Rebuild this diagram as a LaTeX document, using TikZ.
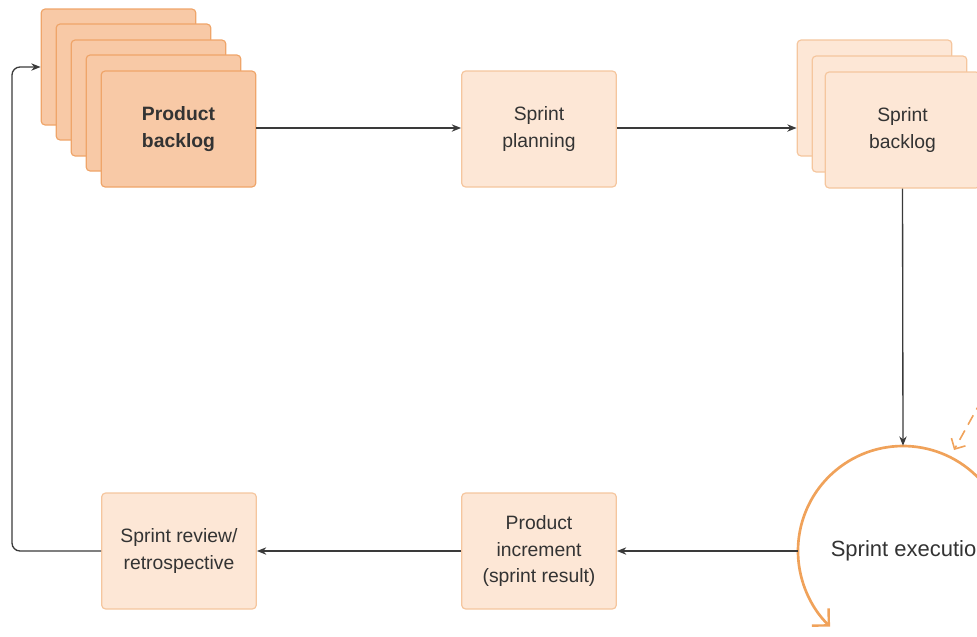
\documentclass[tikz,border=0pt]{standalone}
\usepackage{fontspec}
\setmainfont{Liberation Sans}
\usetikzlibrary{arrows.meta,positioning}
\definecolor{darkfill}{HTML}{F8C9A6}
\definecolor{darkline}{HTML}{EFA56A}
\definecolor{lightfill}{HTML}{FDE7D6}
\definecolor{lightline}{HTML}{F5C69E}
\definecolor{txt}{HTML}{333333}
\definecolor{arr}{HTML}{3A3A3A}
\definecolor{circ}{HTML}{F0A25A}
\begin{document}
\begin{tikzpicture}[x=0.75pt,y=-0.75pt,
  box/.style={rectangle,rounded corners=3pt,minimum width=116pt,minimum height=87pt,
    inner sep=0pt,align=center,text=txt,font=\fontsize{14.5}{20}\selectfont,line width=0.9pt},
  darkbox/.style={box,fill=darkfill,draw=darkline},
  lightbox/.style={box,fill=lightfill,draw=lightline},
  conn/.style={draw=arr,line width=1pt,-{Stealth[length=7pt,width=5.5pt]}}]
\useasboundingbox (0,0) rectangle (977,636);
\clip (0,0) rectangle (977,636);
% Product backlog stack
\node[darkbox] (pb1) at (118.5,67) {};
\node[darkbox] (pb2) at (133.5,82) {};
\node[darkbox] (pb3) at (148.5,98) {};
\node[darkbox] (pb4) at (163.5,113) {};
\node[darkbox,font=\fontsize{14.5}{20}\selectfont\bfseries] (pb) at (178.5,129) {Product\\backlog};
% Sprint planning
\node[lightbox] (sp) at (539,129) {Sprint\\planning};
% Sprint backlog stack
\node[lightbox] (sb1) at (874.5,98) {};
\node[lightbox] (sb2) at (889.5,114) {};
\node[lightbox] (sb) at (902.5,130) {Sprint\\backlog};
% Sprint execution
\node[circle,minimum size=157.5pt,inner sep=0pt,text=txt,font=\fontsize{16.5}{20}\selectfont] (ex) at (903,551) {\hspace*{10pt}Sprint execution};
\draw[circ,line width=2pt,-{Straight Barb[length=9pt,width=18pt,line width=1.8pt]}]
  ([shift={(-40:105)}]ex.center) arc[start angle=-40,end angle=-226,radius=105];
\coordinate (dstart) at (990,385);
\coordinate (dend) at (954,450);
\draw[circ,line width=1.2pt,dashed,dash pattern=on 8pt off 5pt,-{Straight Barb[length=6pt,width=12pt]}] (dstart) -- (dend);
% Bottom boxes
\node[lightbox] (pi) at (539,551) {Product\\increment\\(sprint result)};
\node[lightbox] (sr) at (179,551) {Sprint review/\\retrospective};
% Connectors
\draw[conn] (pb.east |- 0,128) -- (sp.west |- 0,128);
\draw[conn] (sp.east |- 0,128) -- (sb1.west |- 0,128);
\draw[conn] (sb.south) -- (ex.north);
\draw[conn] (ex.west) -- (pi.east);
\draw[conn] (pi.west) -- (sr.east);
\draw[conn,rounded corners=6pt] (sr.west) -- (12,551) -- (12,67) -- (pb1.west);
\end{tikzpicture}
\end{document}
